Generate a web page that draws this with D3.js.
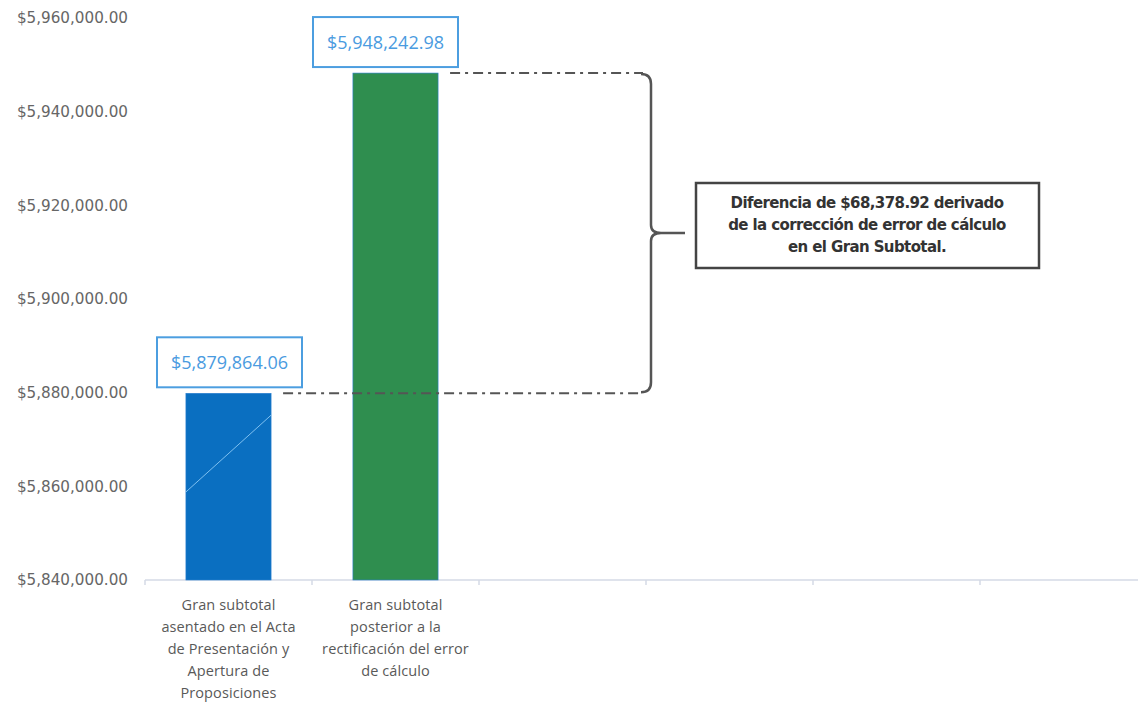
<!DOCTYPE html>
<html>
<head>
<meta charset="utf-8">
<script src="https://cdn.jsdelivr.net/npm/d3@7"></script>
<style>
  body { margin: 0; background: #fff; }
  text { font-family: "Open Sans", "Noto Sans", sans-serif; }
</style>
</head>
<body>
<div id="chart"></div>
<script>
// chart data
var categories = [
  ["Gran subtotal", "asentado en el Acta", "de Presentación y", "Apertura de", "Proposiciones"],
  ["Gran subtotal", "posterior a la", "rectificación del error", "de cálculo"]
];
var values = [5879864.06, 5948242.98];
var valueLabels = ["$5,879,864.06", "$5,948,242.98"];
var barColors = ["#0a6fc1", "#2f8e4f"];
var yTicks = [5840000, 5860000, 5880000, 5900000, 5920000, 5940000, 5960000];
var slots = 6; // category slots on the x axis, only the first two hold bars
var note = ["Diferencia de $68,378.92 derivado", "de la corrección de error de cálculo", "en el Gran Subtotal."];

var width = 1138, height = 705;
var svg = d3.select("#chart").append("svg")
  .attr("width", width)
  .attr("height", height);

var x = d3.scaleBand()
  .domain(d3.range(slots))
  .range([145, 145 + 167 * slots])
  .paddingInner(0.49)
  .paddingOuter(0.245);

var y = d3.scaleLinear()
  .domain([5840000, 5960000])
  .range([580, 18]);

var fmt = function(d) { return "$" + d3.format(",.2f")(d); };

// y axis labels (no axis line)
var yAxis = svg.append("g")
  .attr("transform", "translate(128,0)")
  .call(d3.axisLeft(y).tickValues(yTicks).tickFormat(fmt).tickSize(0).tickPadding(0));
yAxis.select(".domain").remove();
yAxis.selectAll("text")
  .attr("fill", "#666")
  .style("font-size", "15.2px")
  .style("font-family", "'DejaVu Sans', sans-serif");

// x axis line with ticks between slots
svg.append("line")
  .attr("x1", 145).attr("x2", width)
  .attr("y1", y(5840000)).attr("y2", y(5840000))
  .attr("stroke", "#d4dae6").attr("stroke-width", 1.5);
svg.selectAll(".xtick")
  .data(d3.range(slots + 1))
  .join("line")
  .attr("class", "xtick")
  .attr("x1", function(i) { return 145 + x.step() * i; })
  .attr("x2", function(i) { return 145 + x.step() * i; })
  .attr("y1", y(5840000)).attr("y2", y(5840000) + 5)
  .attr("stroke", "#d4dae6").attr("stroke-width", 1.5);

// bars
svg.selectAll(".bar")
  .data(values)
  .join("rect")
  .attr("class", "bar")
  .attr("x", function(d, i) { return x(i); })
  .attr("width", x.bandwidth())
  .attr("y", function(d) { return y(d); })
  .attr("height", function(d) { return y(5840000) - y(d); })
  .attr("fill", function(d, i) { return barColors[i]; })
  .attr("stroke", "#2a7fd0")
  .attr("stroke-width", 0.6);

// faint leader line inside the first bar
svg.append("line")
  .attr("x1", x(0)).attr("y1", y(5858800))
  .attr("x2", x(0) + x.bandwidth()).attr("y2", y(5875200))
  .attr("stroke", "#7fc0f0").attr("stroke-width", 1);

// x category labels
categories.forEach(function(lines, i) {
  var t = svg.append("text")
    .attr("text-anchor", "middle")
    .attr("fill", "#595959")
    .style("font-size", "14.5px")
    .style("letter-spacing", "0.1px");
  lines.forEach(function(line, j) {
    t.append("tspan")
      .attr("x", x(i) + x.bandwidth() / 2)
      .attr("y", 610 + j * 22)
      .text(line);
  });
});

// value label boxes
var boxW = 145, boxH = 50;
var boxShift = [1, -10];
values.forEach(function(v, i) {
  var cx = x(i) + x.bandwidth() / 2 + boxShift[i];
  var top = y(v) - 6 - boxH;
  svg.append("rect")
    .attr("x", cx - boxW / 2).attr("y", top)
    .attr("width", boxW).attr("height", boxH)
    .attr("fill", "#fff")
    .attr("stroke", "#4c9ee0").attr("stroke-width", 2);
  svg.append("text")
    .attr("x", cx).attr("y", top + boxH / 2 + 6.5)
    .attr("text-anchor", "middle")
    .attr("fill", "#4a9be0")
    .style("font-size", "18px")
    .text(valueLabels[i]);
});

// dash-dot reference lines
var braceX = 651;
values.forEach(function(v, i) {
  svg.append("line")
    .attr("x1", x(i) + x.bandwidth() + 12).attr("x2", braceX - 8)
    .attr("y1", y(v)).attr("y2", y(v))
    .attr("stroke", "#555").attr("stroke-width", 2)
    .attr("stroke-dasharray", "10,5,3,5");
});

// brace
var yTop = y(values[1]) + 1, yBot = y(values[0]) - 1, yMid = 233;
var brace = d3.path();
brace.moveTo(braceX - 10, yTop);
brace.quadraticCurveTo(braceX, yTop, braceX, yTop + 10);
brace.lineTo(braceX, yMid - 8);
brace.quadraticCurveTo(braceX, yMid, braceX + 10, yMid);
brace.lineTo(braceX + 34, yMid);
brace.moveTo(braceX + 10, yMid);
brace.quadraticCurveTo(braceX, yMid, braceX, yMid + 8);
brace.lineTo(braceX, yBot - 10);
brace.quadraticCurveTo(braceX, yBot, braceX - 10, yBot);
svg.append("path")
  .attr("d", brace.toString())
  .attr("fill", "none")
  .attr("stroke", "#555").attr("stroke-width", 2.5);

// note box
svg.append("rect")
  .attr("x", 696).attr("y", 183)
  .attr("width", 343).attr("height", 85)
  .attr("fill", "#fff")
  .attr("stroke", "#444").attr("stroke-width", 2.5);
var nt = svg.append("text")
  .attr("text-anchor", "middle")
  .attr("fill", "#333")
  .style("font-family", "'DejaVu Sans', sans-serif")
  .style("font-weight", "bold")
  .style("font-size", "15px")
  .style("letter-spacing", "-0.6px");
note.forEach(function(line, j) {
  nt.append("tspan")
    .attr("x", 867)
    .attr("y", 208 + j * 22)
    .text(line);
});
</script>
</body>
</html>
